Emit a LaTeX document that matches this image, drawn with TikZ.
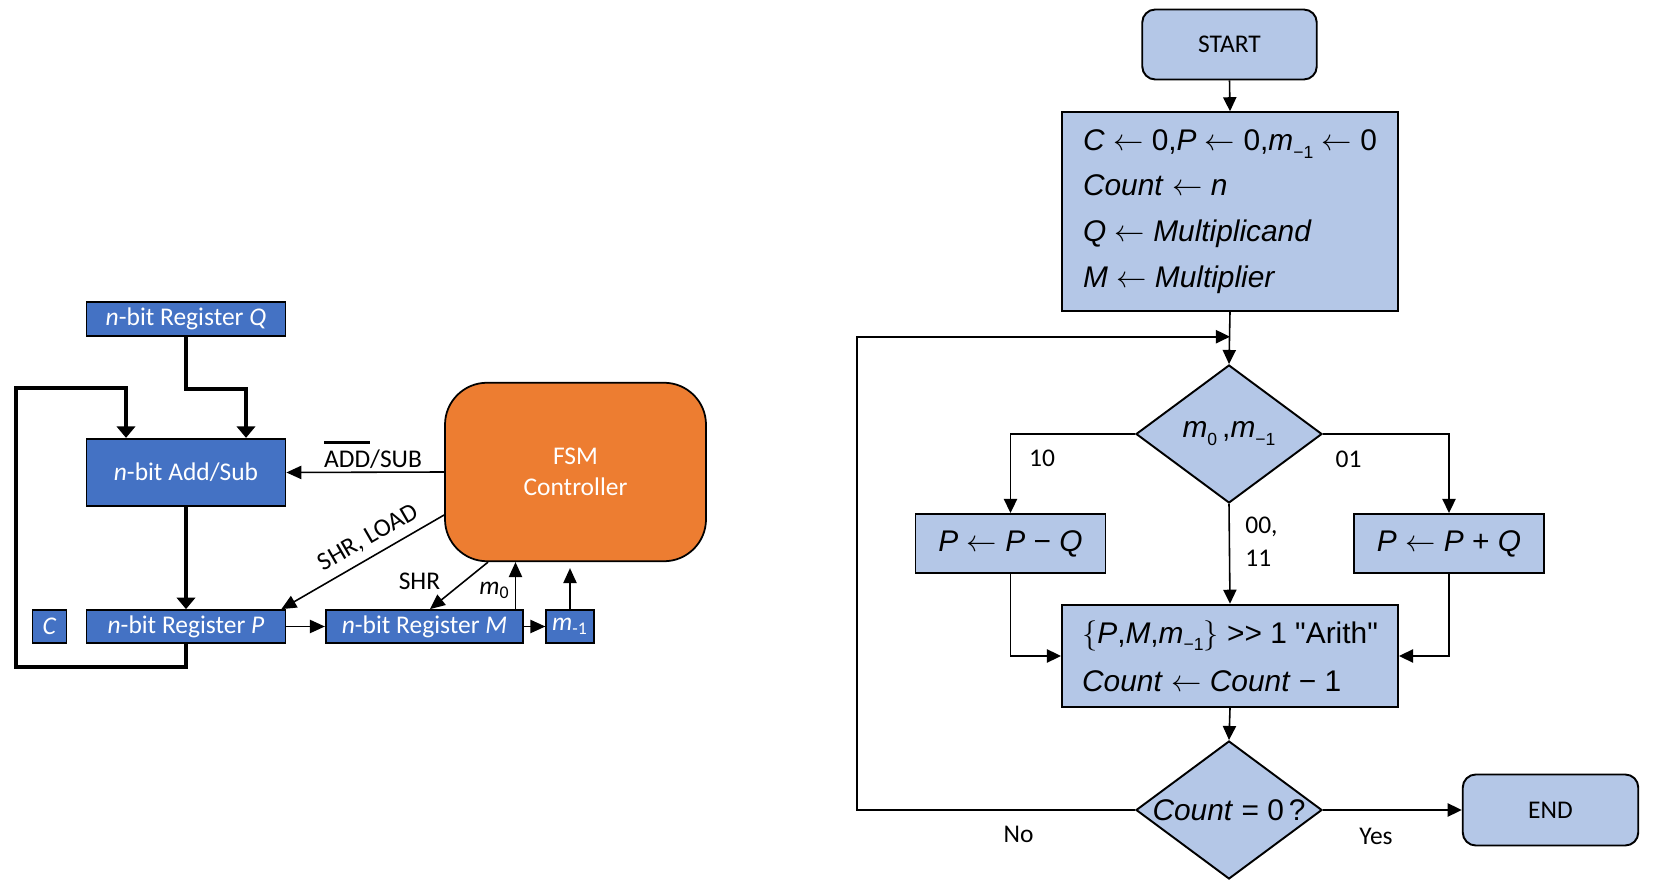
\documentclass[tikz,border=0pt]{standalone}
\usepackage{fontspec}
\setmainfont{Carlito}
\newfontfamily\eqfont{Liberation Sans}
\usetikzlibrary{arrows.meta, shapes.geometric, positioning}

\definecolor{regblue}{HTML}{4472C4}
\definecolor{fsmorange}{HTML}{ED7D31}
\definecolor{flowblue}{HTML}{B4C7E7}
\newcommand{\barover}[1]{\vbox{\hrule height 1.3pt\kern 4.5pt\hbox{#1}}}
\newcommand{\lowsub}[1]{\raisebox{-4.5pt}{\fontsize{10}{10}\selectfont #1}}

\tikzset{
    reg/.style={draw=black, line width=1pt, fill=regblue, text=white, inner sep=0pt, minimum height=0.66cm, font=\fontsize{14.5}{17}\selectfont},
    bus/.style={line width=2.4pt, -{Triangle[length=6.6pt, width=10.5pt]}},
    sig/.style={line width=0.9pt, -{Triangle[length=8.5pt, width=7.5pt]}},
    flow/.style={draw=black, line width=1.1pt, fill=flowblue, inner sep=0pt, font=\eqfont\fontsize{17}{26}\selectfont},
    term/.style={flow, rounded corners=0.26cm, font=\fontsize{14.5}{17}\selectfont},
    test/.style={flow, diamond, aspect=1.35, minimum width=3.72cm, minimum height=2.76cm},
    farr/.style={line width=0.9pt, -{Triangle[length=8pt, width=7.5pt]}},
    lbl/.style={font=\fontsize{14.5}{17}\selectfont, inner sep=0pt}
}

\begin{document}
\begin{tikzpicture}
    \useasboundingbox (0, 0) rectangle (33.14, 17.78);

    \node[reg, minimum width=3.98cm, minimum height=0.68cm] (regQ) at (3.72, 11.40) {\textit{n}-bit Register \textit{Q}};
    \node[reg, minimum width=3.98cm, minimum height=1.35cm] (addsub) at (3.72, 8.33) {\textit{n}-bit Add/Sub};
    \node[reg, minimum width=3.98cm] (regP) at (3.72, 5.25) {\textit{n}-bit Register \textit{P}};
    \node[reg, minimum width=0.68cm] (regC) at (0.99, 5.25) {\textit{C}};
    \node[reg, minimum width=3.95cm] (regM) at (8.49, 5.25) {\textit{n}-bit Register \textit{M}};
    \node[reg, minimum width=0.95cm] (mm1) at (11.40, 5.25) {\textit{m}\textsubscript{-1}};
    \node[reg, fill=fsmorange, rounded corners=0.84cm, minimum width=5.22cm, minimum height=3.57cm, align=center, font=\fontsize{14.5}{17.9}\selectfont] (fsm) at (11.51, 8.34) {FSM\\Controller};
    \node[lbl, anchor=base] (addsubLbl) at (7.46, 8.42) {\barover{ADD}/SUB};
    \node[lbl] (shrLbl) at (8.39, 6.16) {SHR};
    \node[lbl] (m0Lbl) at (9.89, 5.98) {\textit{m}\textsubscript{0}};
    \coordinate (m0bot) at ([xshift=1.82cm]regM.north);

    \draw[bus] (regQ.south) -- ++(0, -1.04) -| ([xshift=1.2cm]addsub.north);
    \draw[bus] (regP.south) -- ++(0, -0.46) -| (0.32, 10.02) -| ([xshift=-1.2cm]addsub.north);
    \draw[bus] (addsub.south) -- (regP.north);
    \draw[sig] (fsm.west) -- (addsub.east);
    \draw[sig] ([yshift=-0.86cm]fsm.west) -- node[lbl, pos=0.41, sloped, above=4pt] (shrload) {SHR, LOAD} ([xshift=-0.1cm]regP.north east);
    \draw[sig] ([xshift=-1.75cm]fsm.south) -- ([xshift=0.11cm]regM.north);
    \draw[sig] (m0bot) -- (m0bot |- fsm.south);
    \draw[sig, shorten >=0.12cm] (mm1.north) -- (mm1.north |- fsm.south);
    \draw[sig] (regP.east) -- (regM.west);
    \draw[sig] (regM.east) -- (mm1.west);

    \node[term, minimum width=3.49cm, minimum height=1.40cm] (start) at (24.59, 16.89) {START};
    \node[flow, minimum width=6.72cm, minimum height=3.97cm, align=left] (init) at (24.60, 13.55) {\textit{C} $\leftarrow$ 0,\textit{P} $\leftarrow$ 0,\textit{m}\lowsub{−1} $\leftarrow$ 0\\\textit{Count} $\leftarrow$ \textit{n}\\\textit{Q} $\leftarrow$ \textit{Multiplicand}\\\textit{M} $\leftarrow$ \textit{Multiplier}};
    \node[test] (mcheck) at (24.58, 9.10) {\textit{m}\lowsub{0}\,,\textit{m}\lowsub{−1}};
    \node[flow, minimum width=3.80cm, minimum height=1.18cm] (subQ) at (20.21, 6.91) {\textit{P} $\leftarrow$ \textit{P} − \textit{Q}};
    \node[flow, minimum width=3.80cm, minimum height=1.18cm] (addQ) at (28.98, 6.91) {\textit{P} $\leftarrow$ \textit{P} + \textit{Q}};
    \node[flow, minimum width=6.72cm, minimum height=2.05cm, align=left, font=\eqfont\fontsize{17}{27.5}\selectfont] (shift) at (24.60, 4.66) {$\{$\textit{P},\textit{M},\textit{m}\lowsub{−1}$\}$ \textgreater\textgreater\ 1 \textquotedbl Arith\textquotedbl\\\textit{Count} $\leftarrow$ \textit{Count} − 1};
    \node[test] (zcheck) at (24.58, 1.58) {\textit{Count} = 0\,?};
    \node[term, minimum width=3.51cm, minimum height=1.42cm] (stop) at (31.01, 1.58) {END};
    \node[lbl] (l10) at (20.84, 8.61) {10};
    \node[lbl] (l01) at (26.97, 8.59) {01};
    \node[lbl, anchor=west, align=left, font=\fontsize{14.5}{18.7}\selectfont] (l00) at (24.90, 6.95) {00,\\11};
    \node[lbl] (lno) at (20.37, 1.10) {No};
    \node[lbl] (lyes) at (27.52, 1.06) {Yes};
    \coordinate (join) at ([yshift=-0.5cm]init.south);

    \draw[farr] (start.south) -- (init.north);
    \draw[farr] (init.south) -- (mcheck.north);
    \draw[farr] (zcheck.west) -- ++(-5.56, 0) |- (join);
    \draw[farr] (mcheck.west) -| (subQ.north);
    \draw[farr] (mcheck.east) -| (addQ.north);
    \draw[farr] (mcheck.south) -- (shift.north);
    \draw[farr] (subQ.south) |- (shift.west);
    \draw[farr] (addQ.south) |- (shift.east);
    \draw[farr] (shift.south) -- (zcheck.north);
    \draw[farr] (zcheck.east) -- (stop.west);
\end{tikzpicture}
\end{document}
